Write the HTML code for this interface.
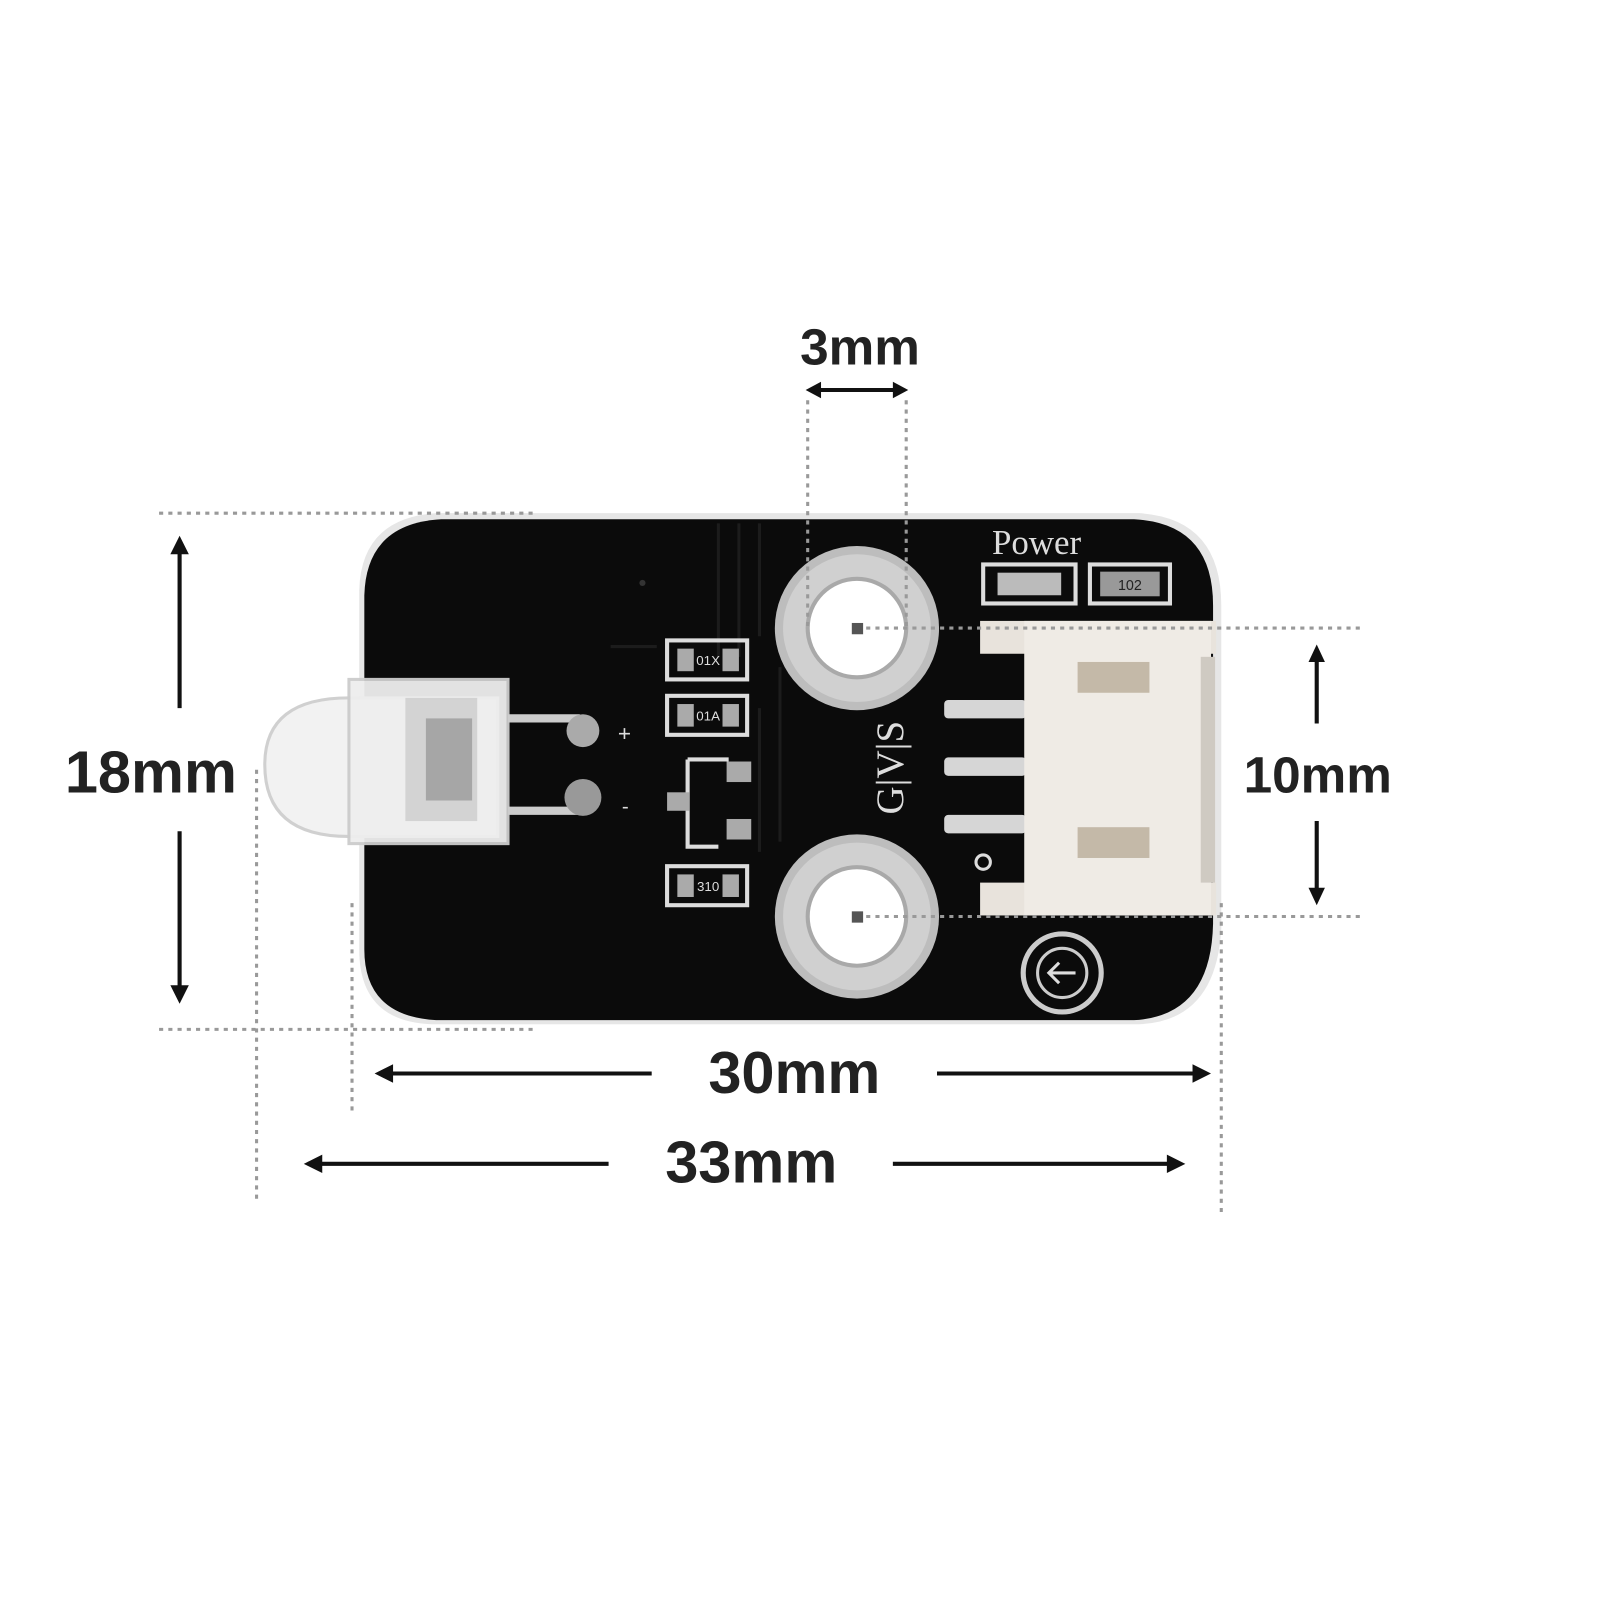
<!DOCTYPE html>
<html><head><meta charset="utf-8"><style>
html,body{margin:0;padding:0;background:#fff;}
svg{display:block}
.s{font-family:"Liberation Sans",sans-serif;}
.r{font-family:"Liberation Serif",serif;}
</style></head><body>
<svg width="1601" height="1600" viewBox="0 0 1560 1559" xmlns="http://www.w3.org/2000/svg">
<rect width="1560" height="1559" fill="#fff"/>
<path d="M425,500 H1110 Q1190,505 1190,590 V905 Q1185,995 1110,998 H420 Q350,995 350,925 V575 Q352,505 425,500Z" fill="#e6e6e6"/>
<path d="M430,506 H1105 Q1182,510 1182,590 V900 Q1180,990 1105,994 H425 Q355,990 355,925 V580 Q357,510 430,506Z" fill="#0b0b0b"/>
<g stroke="#1c1c1c" stroke-width="3" fill="none">
<path d="M700,510 V640 M720,510 V640 M740,510 V620 M595,630 H640 M760,650 V820 M740,690 V830"/>
</g>
<circle cx="835" cy="612" r="80" fill="#bdbdbd"/><circle cx="835" cy="612" r="72" fill="#d0d0d0"/><circle cx="835" cy="612" r="50" fill="#a9a9a9"/><circle cx="835" cy="612" r="46" fill="#fff"/>
<circle cx="835" cy="893" r="80" fill="#bdbdbd"/><circle cx="835" cy="893" r="72" fill="#d0d0d0"/><circle cx="835" cy="893" r="50" fill="#a9a9a9"/><circle cx="835" cy="893" r="46" fill="#fff"/>
<text class="r" x="1010" y="540" font-size="34" fill="#ddd" text-anchor="middle">Power</text>
<rect x="958" y="550" width="90" height="38" fill="none" stroke="#ddd" stroke-width="4"/>
<rect x="972" y="558" width="62" height="22" fill="#bbb"/>
<rect x="1062" y="550" width="78" height="38" fill="none" stroke="#ddd" stroke-width="4"/>
<rect x="1072" y="557" width="58" height="24" fill="#999"/><text class="s" x="1101" y="575" font-size="14" fill="#222" text-anchor="middle">102</text>
<g stroke="#ddd" stroke-width="4" fill="none">
<rect x="650" y="624" width="78" height="38"/><rect x="650" y="678" width="78" height="38"/><rect x="650" y="844" width="78" height="38"/>
<path d="M670,740 H710 M670,740 V825 H700"/>
</g>
<g fill="#aaa"><rect x="660" y="632" width="16" height="22"/><rect x="704" y="632" width="16" height="22"/><rect x="660" y="686" width="16" height="22"/><rect x="704" y="686" width="16" height="22"/><rect x="660" y="852" width="16" height="22"/><rect x="704" y="852" width="16" height="22"/>
<rect x="708" y="742" width="24" height="20"/><rect x="708" y="798" width="24" height="20"/><rect x="650" y="772" width="22" height="18"/></g>
<g class="s" font-size="13" fill="#ddd" text-anchor="middle"><text x="690" y="648">01X</text><text x="690" y="702">01A</text><text x="690" y="868">310</text></g>
<text class="s" x="602" y="722" font-size="22" fill="#ddd">+</text>
<text class="s" x="606" y="792" font-size="20" fill="#ddd">-</text>
<circle cx="626" cy="568" r="3" fill="#333"/>
<text class="r" transform="translate(880,748) rotate(-90)" font-size="38" fill="#ddd" text-anchor="middle">G|V|S</text>
<g fill="#d6d6d6"><rect x="920" y="682" width="80" height="18" rx="4"/><rect x="920" y="738" width="80" height="18" rx="4"/><rect x="920" y="794" width="80" height="18" rx="4"/></g>
<circle cx="958" cy="840" r="7" fill="none" stroke="#ddd" stroke-width="3"/>
<rect x="955" y="605" width="230" height="32" fill="#e8e3dc"/>
<rect x="955" y="860" width="230" height="32" fill="#e8e3dc"/>
<rect x="998" y="605" width="182" height="287" fill="#efebe5"/>
<rect x="1170" y="640" width="14" height="220" fill="#cfcac2"/>
<rect x="1050" y="645" width="70" height="30" fill="#c4b9a8"/>
<rect x="1050" y="806" width="70" height="30" fill="#c4b9a8"/>
<circle cx="1035" cy="948" r="38" fill="none" stroke="#ccc" stroke-width="5"/>
<circle cx="1035" cy="948" r="24" fill="none" stroke="#ccc" stroke-width="3"/>
<path d="M1048,948 H1022 M1032,938 L1022,948 L1032,958" stroke="#ddd" stroke-width="3" fill="none"/>
<path d="M495,700 H565 M495,790 H565" stroke="#ccc" stroke-width="8"/>
<circle cx="568" cy="712" r="16" fill="#aaa"/><circle cx="568" cy="777" r="18" fill="#999"/>
<path d="M340,680 Q258,680 258,745 Q258,815 340,815 H485 V680Z" fill="#f2f2f2" stroke="#d0d0d0" stroke-width="3"/>
<rect x="340" y="662" width="155" height="160" fill="#eeeeee" stroke="#ccc" stroke-width="3" opacity="0.95"/>
<rect x="395" y="680" width="70" height="120" fill="#c8c8c8" opacity="0.7"/>
<rect x="415" y="700" width="45" height="80" fill="#888" opacity="0.6"/>
<g stroke="#999" stroke-width="3" stroke-dasharray="4,5" fill="none">
<path d="M155,500 H520 M155,1003 H520 M787,390 V612 M883,390 V612 M835,612 H1325 M835,893 H1325 M343,880 V1085 M250,750 V1172 M1190,880 V1185"/>
</g>
<rect x="830" y="607" width="11" height="11" fill="#555"/><rect x="830" y="888" width="11" height="11" fill="#555"/>
<g stroke="#111" stroke-width="4" fill="#111">
<path d="M175,530 V690 M175,810 V970"/>
<path d="M1283,635 V705 M1283,800 V875"/>
<path d="M370,1046 H635 M913,1046 H1175"/>
<path d="M300,1134 H593 M870,1134 H1150"/>
<path d="M790,380 H880"/>
</g>
<g fill="#111">
<path d="M175,522 L166,540 L184,540Z"/><path d="M175,978 L166,960 L184,960Z"/>
<path d="M1283,628 L1275,645 L1291,645Z"/><path d="M1283,882 L1275,865 L1291,865Z"/>
<path d="M365,1046 L383,1037 L383,1055Z"/><path d="M1180,1046 L1162,1037 L1162,1055Z"/>
<path d="M296,1134 L314,1125 L314,1143Z"/><path d="M1155,1134 L1137,1125 L1137,1143Z"/>
<path d="M785,380 L800,372 L800,388Z"/><path d="M885,380 L870,372 L870,388Z"/>
</g>
<g class="s" font-weight="bold" fill="#222" text-anchor="middle">
<text x="838" y="355" font-size="50">3mm</text>
<text x="147" y="772" font-size="58">18mm</text>
<text x="1284" y="772" font-size="50">10mm</text>
<text x="774" y="1065" font-size="58">30mm</text>
<text x="732" y="1152" font-size="58">33mm</text>
</g>
</svg>
</body></html>
